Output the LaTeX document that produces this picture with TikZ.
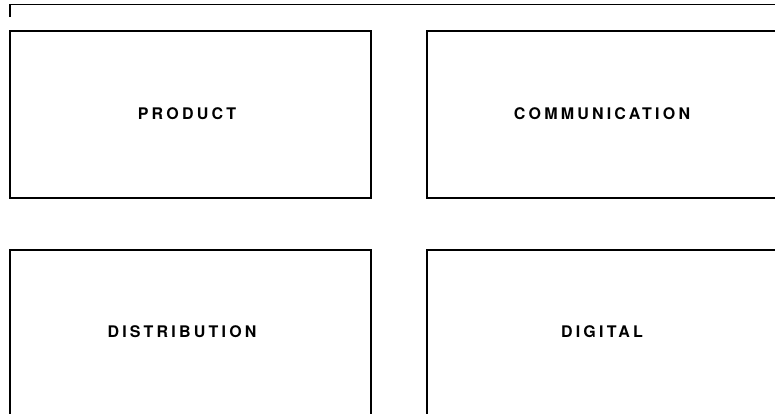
\documentclass[tikz,border=0pt]{standalone}
\usepackage{fontspec}
\newfontfamily\labelfont[LetterSpace=20]{TeX Gyre Heros}
\begin{document}
\begin{tikzpicture}[x=1pt,y=-1pt,
  panel/.style={draw=black,line width=1.8pt,fill=none,inner sep=0pt},
  paneltext/.style={font=\labelfont\bfseries\fontsize{16}{19}\selectfont,inner sep=0pt,text=black}]
\useasboundingbox (0,0) rectangle (775,414);
\clip (0,0) rectangle (775,414);
\fill[white] (0,0) rectangle (775,414);
% frame line at top
\coordinate (fA) at (10,17);
\coordinate (fB) at (10,4.5);
\coordinate (fC) at (780,4.5);
\draw[line width=1.6pt] (fA) -- (fB) -- (fC);
% panels
\node[panel,minimum width=361pt,minimum height=167pt,anchor=north west] (prod) at (9,30) {};
\node[panel,minimum width=361pt,minimum height=167pt,anchor=north west] (comm) at (426,30) {};
\node[panel,minimum width=361pt,minimum height=170pt,anchor=north west] (dist) at (9,249) {};
\node[panel,minimum width=361pt,minimum height=170pt,anchor=north west] (digi) at (426,249) {};
\node[paneltext] (tprod) at (187,114) {PRODUCT};
\node[paneltext] (tcomm) at (602,114) {COMMUNICATION};
\node[paneltext] (tdist) at (182,332) {DISTRIBUTION};
\node[paneltext] (tdigi) at (602,332) {DIGITAL};
\end{tikzpicture}
\end{document}
